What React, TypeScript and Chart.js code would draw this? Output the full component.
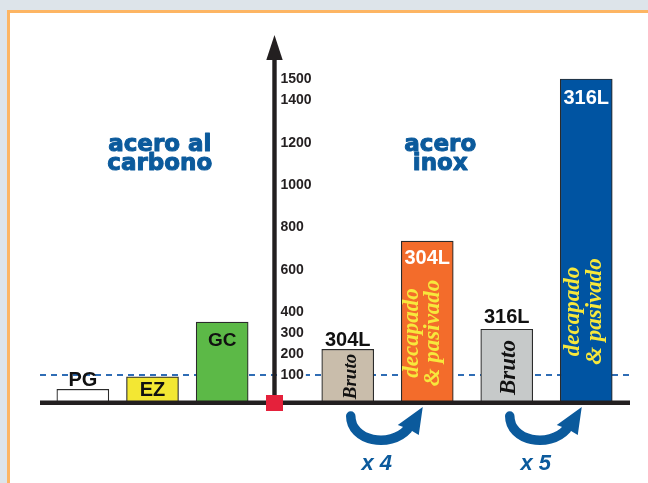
import React, { useEffect, useRef } from 'react';
import { Chart, registerables } from 'chart.js';

Chart.register(...registerables);

// ---- data ----
const leftCategories = ['PG', 'EZ', 'GC'];
const leftValues = [32, 91, 350];
const rightGrades = ['304L', '304L', '316L', '316L'];
const rightFinishes = [['Bruto'], ['decapado', '& pasivado'], ['Bruto'], ['decapado', '& pasivado']];
const rightCategories = rightGrades.map((g, i) => g + ' ' + rightFinishes[i].join(' '));
const rightValues = [221, 733, 316, 1500];
const yTicks = [100, 200, 300, 400, 600, 800, 1000, 1200, 1400, 1500];
const referenceValue = 100;
const multipliers = ['x 4', 'x 5'];
const groupTitles = [['acero al', 'carbono'], ['acero', 'inox']];

// ---- styles ----
const Y_MIN = -33;
const Y_MAX = 1708;
const leftColors = ['#ffffff', '#f3e733', '#5cb947'];
const rightColors = ['#c9bdab', '#f36c2b', '#c6c9c9', '#0054a2'];
const INK = '#231f20';
const BLUE = '#0b5a9c';
const DASH = '#2f6db5';
const RED = '#e5213b';
const YELLOW = '#f7e83c';

const leftLabelStyle = [
  { color: '#111', dy: -3, size: 20 },
  { color: '#111', dy: 19.5, size: 20 },
  { color: '#111', dy: 23.5, size: 19 },
];
const rightLabelStyle = [
  { color: '#111', dy: -3, size: 20 },
  { color: '#ffffff', dy: 23, size: 20 },
  { color: '#111', dy: -6, size: 20 },
  { color: '#ffffff', dy: 25.5, size: 20 },
];
const finishStyle = [
  { color: '#111', size: 19, up: 26.5, baselines: [8] },
  { color: YELLOW, size: 23, up: 70, baselines: [-9, 11.5] },
  { color: '#111', size: 23, up: 35.5, baselines: [8.5] },
  { color: YELLOW, size: 23, up: 91.5, baselines: [-7, 15] },
];

function hiddenX(stackWeight: number, labels: string[], order: number) {
  return {
    type: 'category',
    labels,
    position: 'bottom',
    stack: 'xrow',
    stackWeight,
    weight: order,
    offset: true,
    grid: { display: false, drawTicks: false },
    border: { display: false },
    ticks: { display: false },
  };
}

function drawCurveArrow(ctx: CanvasRenderingContext2D, sx: number, by: number) {
  ctx.save();
  ctx.strokeStyle = BLUE;
  ctx.fillStyle = BLUE;
  ctx.lineCap = 'round';
  ctx.lineWidth = 9.5;
  ctx.beginPath();
  ctx.moveTo(sx + 3, by + 13);
  ctx.bezierCurveTo(sx + 3, by + 38, sx + 42, by + 46, sx + 60, by + 26);
  ctx.stroke();
  ctx.beginPath();
  ctx.moveTo(sx + 75, by + 4);
  ctx.lineTo(sx + 71, by + 32);
  ctx.lineTo(sx + 61, by + 26);
  ctx.lineTo(sx + 50, by + 22);
  ctx.closePath();
  ctx.fill();
  ctx.restore();
}

const overlayPlugin = {
  id: 'overlay',
  beforeDatasetsDraw(chart: any) {
    const { ctx, chartArea, scales } = chart;
    const y = scales.y.getPixelForValue(referenceValue);
    ctx.save();
    ctx.strokeStyle = DASH;
    ctx.lineWidth = 2;
    ctx.setLineDash([6, 5]);
    ctx.beginPath();
    ctx.moveTo(chartArea.left, y);
    ctx.lineTo(chartArea.right, y);
    ctx.stroke();
    ctx.restore();
  },
  afterDatasetsDraw(chart: any) {
    const { ctx, chartArea, scales } = chart;
    const yS = scales.y;
    const base = yS.getPixelForValue(Y_MIN);
    const ax = scales.xm.getPixelForDecimal(0.343);
    const leftBars = chart.getDatasetMeta(0).data;
    const rightBars = chart.getDatasetMeta(1).data;
    ctx.save();

    // baseline
    ctx.fillStyle = INK;
    ctx.fillRect(chartArea.left, base - 2.5, chartArea.right - chartArea.left, 4.5);

    // vertical axis with arrow
    ctx.fillRect(ax - 2.2, chartArea.top + 22, 4.4, base - chartArea.top - 22);
    ctx.beginPath();
    ctx.moveTo(ax, chartArea.top);
    ctx.lineTo(ax + 8.2, chartArea.top + 25);
    ctx.lineTo(ax - 8.2, chartArea.top + 25);
    ctx.closePath();
    ctx.fill();

    // red origin square
    ctx.fillStyle = RED;
    ctx.fillRect(ax - 8.5, base - 8, 17, 16);

    // tick labels
    ctx.font = 'bold 14px "Liberation Sans"';
    ctx.textAlign = 'left';
    ctx.textBaseline = 'middle';
    yTicks.forEach((v) => {
      const y = yS.getPixelForValue(v);
      const t = String(v);
      if (v === referenceValue) {
        ctx.fillStyle = '#ffffff';
        ctx.fillRect(ax + 4, y - 3, ctx.measureText(t).width + 4, 6);
      }
      ctx.fillStyle = INK;
      ctx.fillText(t, ax + 6, y + 0.5);
    });

    // bar labels (left group)
    ctx.textAlign = 'center';
    ctx.textBaseline = 'alphabetic';
    leftBars.forEach((bar: any, i: number) => {
      const s = leftLabelStyle[i];
      ctx.font = `bold ${s.size}px "Liberation Sans"`;
      ctx.fillStyle = s.color;
      ctx.fillText(leftCategories[i], bar.x, bar.y + s.dy);
    });

    // bar labels (right group)
    rightBars.forEach((bar: any, i: number) => {
      const s = rightLabelStyle[i];
      ctx.font = `bold ${s.size}px "Liberation Sans"`;
      ctx.fillStyle = s.color;
      ctx.textAlign = 'center';
      ctx.textBaseline = 'alphabetic';
      ctx.fillText(rightGrades[i], bar.x, bar.y + s.dy);

      const f = finishStyle[i];
      ctx.save();
      ctx.translate(bar.x, base - f.up);
      ctx.rotate(-Math.PI / 2);
      ctx.font = `italic bold ${f.size}px "Liberation Serif"`;
      ctx.fillStyle = f.color;
      rightFinishes[i].forEach((line, k) => ctx.fillText(line, 0, f.baselines[k]));
      ctx.restore();
    });

    // group titles
    ctx.font = 'bold 23px "DejaVu Sans"';
    ctx.fillStyle = BLUE;
    ctx.strokeStyle = BLUE;
    ctx.lineWidth = 1;
    ctx.lineJoin = 'round';
    ctx.textAlign = 'center';
    const titleX = [scales.xl.getPixelForDecimal(0.535), scales.xr.getPixelForDecimal(0.416)];
    groupTitles.forEach((lines, g) => {
      lines.forEach((line, k) => {
        const ty = chartArea.top + 116 + k * 19;
        ctx.fillText(line, titleX[g], ty);
        ctx.strokeText(line, titleX[g], ty);
      });
    });

    // improvement arrows
    multipliers.forEach((m, k) => {
      const bruto = rightBars[k * 2];
      drawCurveArrow(ctx, bruto.x, base);
      ctx.font = 'italic bold 22px "Liberation Sans"';
      ctx.fillStyle = BLUE;
      ctx.textAlign = 'center';
      ctx.fillText(m, bruto.x + 29, base + 67);
    });

    ctx.restore();
  },
};

const barStyle = {
  yAxisID: 'y',
  borderColor: '#2b2b2b',
  borderWidth: 1.2,
  grouped: false,
  barPercentage: 1,
  categoryPercentage: 1,
  maxBarThickness: 52,
  base: Y_MIN,
};

export default function App() {
  const ref = useRef<HTMLCanvasElement>(null);
  useEffect(() => {
    const chart = new Chart(ref.current as HTMLCanvasElement, {
      type: 'bar',
      data: {
        datasets: [
          {
            ...barStyle,
            label: 'acero al carbono',
            data: leftValues,
            xAxisID: 'xl',
            backgroundColor: leftColors,
          },
          {
            ...barStyle,
            label: 'acero inox',
            data: rightValues,
            xAxisID: 'xr',
            backgroundColor: rightColors,
          },
        ],
      } as any,
      options: {
        animation: false,
        responsive: false,
        events: [],
        layout: { padding: { top: 35, bottom: 80, left: 40, right: 18 } },
        plugins: { legend: { display: false }, tooltip: { enabled: false } },
        scales: {
          xpad: hiddenX(8, [''], 0),
          xl: hiddenX(209, leftCategories, 1),
          xm: hiddenX(51, [''], 2),
          xr: hiddenX(318, rightCategories, 3),
          xpadR: hiddenX(4, [''], 4),
          y: { type: 'linear', min: Y_MIN, max: Y_MAX, display: false },
        } as any,
      },
      plugins: [overlayPlugin],
    });
    return () => chart.destroy();
  }, []);

  return (
    <div
      style={{
        position: 'fixed',
        left: 0,
        top: 0,
        width: 648,
        height: 483,
        background: '#dde4ea',
        overflow: 'hidden',
      }}
    >
      <div
        style={{
          position: 'absolute',
          left: 7,
          top: 10,
          width: 720,
          height: 560,
          background: '#ffffff',
          border: '3px solid #fdb563',
          boxSizing: 'border-box',
        }}
      />
      <canvas
        ref={ref}
        width={648}
        height={483}
        style={{ position: 'absolute', left: 0, top: 0, width: 648, height: 483 }}
      />
    </div>
  );
}
